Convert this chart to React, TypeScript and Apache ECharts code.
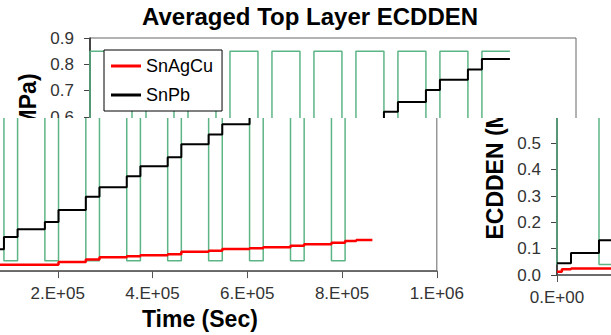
import React, { useEffect, useRef } from "react";
import * as echarts from "echarts";

// ---- data (time in seconds) ----
const timeTicks = [0, 200000, 400000, 600000, 800000, 1000000];

const snAgCuTimes = [0, 10000, 28800, 201600, 259200, 288000, 345600, 374400, 432000, 460800, 518400, 547200, 604800, 633600, 691200, 720000, 777600, 806400, 830000, 864000];
const snAgCuValues = [0.012, 0.022, 0.025, 0.035, 0.045, 0.053, 0.057, 0.061, 0.065, 0.075, 0.079, 0.085, 0.088, 0.092, 0.098, 0.104, 0.109, 0.116, 0.12, 0.12];

const snPbTimes = [0, 28800, 86400, 115200, 172800, 201600, 259200, 288000, 345600, 374400, 432000, 460800, 518400, 547200, 604800, 633600, 691200, 720000, 777600, 806400, 864000];
const snPbValues = [0.045, 0.084, 0.132, 0.162, 0.19, 0.236, 0.287, 0.324, 0.366, 0.405, 0.44, 0.49, 0.527, 0.567, 0.62, 0.657, 0.703, 0.741, 0.78, 0.82, 0.82];

// temperature cycle drawn on the same scale (low / high levels)
const cycleRise = [0, 115200, 201600, 288000, 374400, 460800, 547200, 633600, 720000, 806400];
const cycleFall = [86400, 172800, 259200, 345600, 432000, 518400, 604800, 691200, 777600];
const tempLow = 0.04;
const tempHigh = 0.85;

const FONT = "'Liberation Sans', Arial, sans-serif";
const W = 594;
const H = 335;
const SEAM = 118;
const SHIFT = 127;
const WRAP = 467;
const PAGE_W = 611;

type Part = "top" | "bottom" | "right";

function sci(v: number): string {
  if (v === 0) return "0.E+00";
  const e = Math.floor(Math.log10(v) + 1e-9);
  const m = Math.round(v / Math.pow(10, e));
  return `${m}.E+${String(e).padStart(2, "0")}`;
}

function tempPoints(): number[][] {
  const pts: number[][] = [[0, tempLow]];
  for (let i = 0; i < cycleRise.length; i++) {
    pts.push([cycleRise[i], tempLow], [cycleRise[i], tempHigh]);
    if (i < cycleFall.length) {
      pts.push([cycleFall[i], tempHigh], [cycleFall[i], tempLow]);
    } else {
      pts.push([snPbTimes[snPbTimes.length - 1], tempHigh]);
    }
  }
  return pts;
}

function buildOption(part: Part): any {
  const showTitle = part === "top";
  const xName = part === "bottom" ? "Time (Sec)" : "";
  const xLabel = (v: number) => {
    if (part === "top") return "";
    if (part === "right") return v === 0 ? sci(v) : "";
    return v === 0 ? "" : sci(v);
  };
  const yLabel = (v: number) => {
    if (part === "bottom") return "";
    if (part === "top") return v > 0.55 ? v.toFixed(1) : "";
    return v < 0.55 ? v.toFixed(1) : "";
  };
  const yName = part === "bottom" ? "" : "ECDDEN (MPa)";

  return {
    animation: false,
    backgroundColor: "#ffffff",
    textStyle: { fontFamily: FONT },
    title: {
      show: showTitle,
      text: "Averaged Top Layer ECDDEN",
      left: 142,
      top: 4,
      padding: 0,
      textStyle: { fontSize: 24, fontWeight: "bold", color: "#000", fontFamily: FONT },
    },
    legend: {
      show: part === "top",
      data: ["SnAgCu", "SnPb"],
      orient: "vertical",
      left: 104,
      top: 50,
      backgroundColor: "#fff",
      borderColor: "#000",
      borderWidth: 1,
      borderRadius: 0,
      padding: [7, 9, 7, 7],
      itemGap: 11,
      itemWidth: 30,
      itemHeight: 3,
      icon: "rect",
      textStyle: { fontSize: 18, color: "#000", fontFamily: FONT },
    },
    grid: {
      left: 90,
      right: W - 576,
      top: 38,
      bottom: H - 275,
      show: true,
      borderColor: "#666",
      borderWidth: 1,
      backgroundColor: "transparent",
    },
    xAxis: {
      type: "value",
      min: timeTicks[0],
      max: timeTicks[timeTicks.length - 1],
      interval: timeTicks[1] - timeTicks[0],
      name: xName,
      nameLocation: "middle",
      nameGap: 35,
      nameTextStyle: { fontSize: 23, fontWeight: "bold", color: "#000", fontFamily: FONT },
      axisLine: { show: true, lineStyle: { color: "#555", width: 1.5 } },
      axisTick: { show: true, inside: false, length: 7, lineStyle: { color: "#555" } },
      axisLabel: { formatter: xLabel, fontSize: 17, color: "#333", margin: 14, fontFamily: FONT },
      splitLine: { show: false },
    },
    yAxis: {
      type: "value",
      min: 0,
      max: 0.9,
      interval: 0.1,
      name: yName,
      nameLocation: "middle",
      nameGap: 48,
      nameTextStyle: { fontSize: 23, fontWeight: "bold", color: "#000", fontFamily: FONT },
      axisLine: { show: true, lineStyle: { color: "#222", width: 1.5 } },
      axisTick: { show: true, inside: false, length: 6, lineStyle: { color: "#444" } },
      axisLabel: { formatter: yLabel, fontSize: 17, color: "#333", margin: 16, fontFamily: FONT },
      splitLine: { show: false },
    },
    series: [
      {
        name: "Temperature",
        type: "line",
        data: tempPoints(),
        showSymbol: false,
        silent: true,
        lineStyle: { color: "#5db586", width: 1.5 },
        itemStyle: { color: "#5db586" },
        z: 1,
      },
      {
        name: "SnAgCu",
        type: "line",
        step: "end",
        data: snAgCuTimes.map((t, i) => [t, snAgCuValues[i]]),
        showSymbol: false,
        lineStyle: { color: "#ff0000", width: 2.5 },
        itemStyle: { color: "#ff0000" },
        z: 3,
      },
      {
        name: "SnPb",
        type: "line",
        step: "end",
        data: snPbTimes.map((t, i) => [t, snPbValues[i]]),
        showSymbol: false,
        lineStyle: { color: "#000000", width: 2 },
        itemStyle: { color: "#000000" },
        z: 4,
      },
    ],
  };
}

const pieces: { part: Part; left: number; top: number; width: number; height: number; offsetX: number }[] = [
  { part: "top", left: 0, top: 0, width: PAGE_W, height: SEAM, offsetX: 0 },
  { part: "bottom", left: 0, top: SEAM, width: WRAP, height: H - SEAM, offsetX: -SHIFT },
  { part: "right", left: WRAP, top: SEAM, width: PAGE_W - WRAP, height: H - SEAM, offsetX: WRAP },
];

export default function App() {
  const r0 = useRef<HTMLDivElement>(null);
  const r1 = useRef<HTMLDivElement>(null);
  const r2 = useRef<HTMLDivElement>(null);
  const refs = [r0, r1, r2];

  useEffect(() => {
    const charts: echarts.ECharts[] = [];
    refs.forEach((r, i) => {
      const el = r.current;
      if (!el) return;
      const c = echarts.init(el, null, { renderer: "svg" });
      c.setOption(buildOption(pieces[i].part));
      charts.push(c);
    });
    return () => charts.forEach((c) => c.dispose());
  }, []);

  return (
    <div
      style={{
        position: "fixed",
        left: 0,
        top: 0,
        width: PAGE_W,
        height: H,
        overflow: "hidden",
        background: "#fff",
      }}
    >
      {pieces.map((p, i) => (
        <div
          key={i}
          style={{
            position: "absolute",
            left: p.left,
            top: p.top,
            width: p.width,
            height: p.height,
            overflow: "hidden",
          }}
        >
          <div
            ref={refs[i]}
            style={{
              position: "absolute",
              left: p.offsetX - p.left,
              top: -p.top,
              width: W,
              height: H,
            }}
          />
        </div>
      ))}
    </div>
  );
}
